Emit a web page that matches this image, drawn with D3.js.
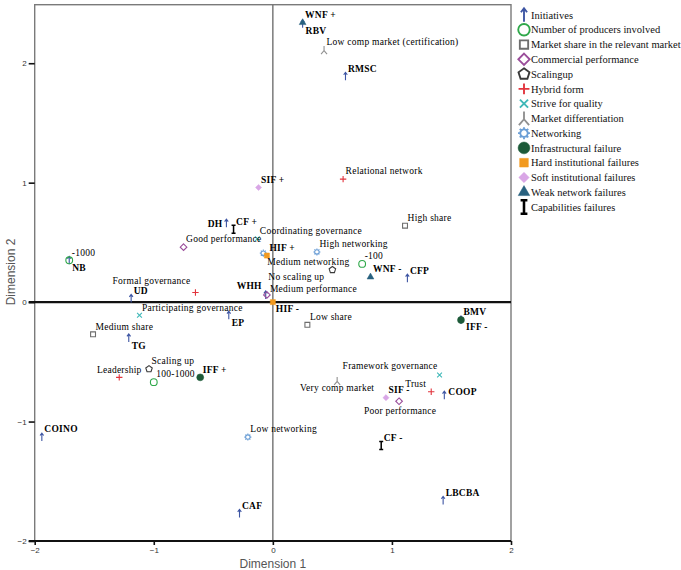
<!DOCTYPE html>
<html>
<head>
<meta charset="utf-8">
<script src="https://cdn.jsdelivr.net/npm/d3@7"></script>
<style>
  body { margin: 0; background: #fff; }
  svg { display: block; }
</style>
</head>
<body>
<div id="chart"></div>
<script>
// ---- data ----
const initiatives = [
  {name: "RBV", x: 0.25, y: 2.33},
  {name: "RMSC", x: 0.61, y: 1.89},
  {name: "DH", x: -0.39, y: 0.66},
  {name: "WHH", x: -0.06, y: 0.06},
  {name: "CFP", x: 1.13, y: 0.20},
  {name: "UD", x: -1.19, y: 0.03},
  {name: "EP", x: -0.37, y: -0.11},
  {name: "NB", x: -1.71, y: 0.35},
  {name: "TG", x: -1.21, y: -0.30},
  {name: "BMV", x: 1.58, y: -0.15},
  {name: "COOP", x: 1.44, y: -0.78},
  {name: "COINO", x: -1.94, y: -1.13},
  {name: "CAF", x: -0.28, y: -1.77},
  {name: "LBCBA", x: 1.43, y: -1.66}
];
const producers = [
  {name: "-1000", x: -1.71, y: 0.35},
  {name: "100-1000", x: -1.00, y: -0.67},
  {name: "-100", x: 0.75, y: 0.32}
];
const marketShare = [
  {name: "High share", x: 1.11, y: 0.64},
  {name: "Low share", x: 0.29, y: -0.19},
  {name: "Medium share", x: -1.51, y: -0.27}
];
const performance = [
  {name: "Good performance", x: -0.75, y: 0.46},
  {name: "Medium performance", x: -0.05, y: 0.06},
  {name: "Poor performance", x: 1.06, y: -0.83}
];
const scaling = [
  {name: "Scaling up", x: -1.04, y: -0.56},
  {name: "No scaling up", x: 0.50, y: 0.27}
];
const hybrid = [
  {name: "Relational network", x: 0.59, y: 1.03},
  {name: "Formal governance", x: -0.65, y: 0.08},
  {name: "Leadership", x: -1.29, y: -0.63},
  {name: "Trust", x: 1.33, y: -0.75}
];
const quality = [
  {name: "Coordinating governance", x: -0.13, y: 0.53},
  {name: "Participating governance", x: -1.12, y: -0.11},
  {name: "Framework governance", x: 1.40, y: -0.61}
];
const differentiation = [
  {name: "Low comp market (certification)", x: 0.43, y: 2.11},
  {name: "Very comp market", x: 0.54, y: -0.66}
];
const networking = [
  {name: "High networking", x: 0.37, y: 0.42},
  {name: "Medium networking", x: -0.08, y: 0.41},
  {name: "Low networking", x: -0.21, y: -1.13}
];
const infraFail = [
  {name: "IFF +", x: -0.61, y: -0.63},
  {name: "IFF -", x: 1.58, y: -0.15}
];
const hardFail = [
  {name: "HIF +", x: -0.05, y: 0.39},
  {name: "HIF -", x: 0.00, y: 0.00}
];
const softFail = [
  {name: "SIF +", x: -0.12, y: 0.96},
  {name: "SIF -", x: 0.95, y: -0.80}
];
const weakFail = [
  {name: "WNF +", x: 0.25, y: 2.34},
  {name: "WNF -", x: 0.82, y: 0.21}
];
const capFail = [
  {name: "CF +", x: -0.33, y: 0.61},
  {name: "CF -", x: 0.91, y: -1.20}
];

const series = [
  {key: "Initiatives", points: initiatives, bold: true},
  {key: "Number of producers involved", points: producers},
  {key: "Market share in the relevant market", points: marketShare},
  {key: "Commercial performance", points: performance},
  {key: "Scalingup", points: scaling},
  {key: "Hybrid form", points: hybrid},
  {key: "Strive for quality", points: quality},
  {key: "Market differentiation", points: differentiation},
  {key: "Networking", points: networking},
  {key: "Infrastructural failure", points: infraFail, bold: true},
  {key: "Hard institutional failures", points: hardFail, bold: true},
  {key: "Soft institutional failures", points: softFail, bold: true},
  {key: "Weak network failures", points: weakFail, bold: true},
  {key: "Capabilities failures", points: capFail, bold: true}
];

const ticks = [-2, -1, 0, 1, 2];

// ---- look ----
const style = {
  "Initiatives": {shape: "arrow", color: "#3d55a3"},
  "Number of producers involved": {shape: "circle", color: "#2fa84a"},
  "Market share in the relevant market": {shape: "square", color: "#6e6e6e"},
  "Commercial performance": {shape: "diamond", color: "#9a4d9a"},
  "Scalingup": {shape: "pentagon", color: "#3a3a3a"},
  "Hybrid form": {shape: "plus", color: "#e2343d"},
  "Strive for quality": {shape: "times", color: "#3fb8b8"},
  "Market differentiation": {shape: "wye", color: "#909090"},
  "Networking": {shape: "gear", color: "#6c9fd6"},
  "Infrastructural failure": {shape: "dot", color: "#1d5a38"},
  "Hard institutional failures": {shape: "fsquare", color: "#f29a1f"},
  "Soft institutional failures": {shape: "fdiamond", color: "#d9a6e6"},
  "Weak network failures": {shape: "triangle", color: "#28617f"},
  "Capabilities failures": {shape: "ibeam", color: "#000"}
};

// label nudges (default: right of the marker, a bit above)
const nudge = {
  "RBV": {dx: 3, dy: 7},
  "DH": {anchor: "end", dx: -4, dy: 0},
  "WHH": {anchor: "end", dx: -4, dy: -9},
  "Medium networking": {dx: 4, dy: 9},
  "No scaling up": {anchor: "end", dx: -8, dy: 7},
  "Medium performance": {dx: 3, dy: -6},
  "HIF -": {dx: 3, dy: 7},
  "IFF -": {dx: 5, dy: 7},
  "Formal governance": {anchor: "end", dx: -5, dy: -12},
  "EP": {dx: 3, dy: 7},
  "NB": {dx: 3, dy: 7},
  "TG": {dx: 3, dy: 8},
  "Leadership": {anchor: "middle", dx: 0, dy: -8},
  "Framework governance": {anchor: "end", dx: -2, dy: -9},
  "Very comp market": {anchor: "middle", dx: 0, dy: 7},
  "Trust": {anchor: "end", dx: -5, dy: -8},
  "COOP": {dx: 4, dy: -4},
  "Poor performance": {anchor: "middle", dx: 1, dy: 9}
};

const W = 681, H = 570;
const x = d3.scaleLinear().domain([-2, 2]).range([34.7, 511]);
const y = d3.scaleLinear().domain([-2, 2.49]).range([541, 4.7]);

const svg = d3.select("#chart").append("svg")
    .attr("width", W)
    .attr("height", H);

// marker path builder, s = size factor (1 in plot, bigger in legend)
function markerPath(shape, s) {
  const p = d3.path();
  if (shape === "arrow") {
    p.moveTo(0, 4 * s); p.lineTo(0, -4 * s);
    p.moveTo(-1.8 * s, -1.6 * s); p.lineTo(0, -4 * s); p.lineTo(1.8 * s, -1.6 * s);
    return p.toString();
  }
  if (shape === "wye") {
    p.moveTo(0, -4 * s); p.lineTo(0, 0.5 * s);
    p.lineTo(-3 * s, 4 * s);
    p.moveTo(0, 0.5 * s); p.lineTo(3 * s, 4 * s);
    return p.toString();
  }
  if (shape === "ibeam") {
    p.moveTo(-2 * s, -4 * s); p.lineTo(2 * s, -4 * s);
    p.moveTo(0, -4 * s); p.lineTo(0, 4 * s);
    p.moveTo(-2 * s, 4 * s); p.lineTo(2 * s, 4 * s);
    return p.toString();
  }
  if (shape === "plus") {
    p.moveTo(-3.2 * s, 0); p.lineTo(3.2 * s, 0);
    p.moveTo(0, -3.2 * s); p.lineTo(0, 3.2 * s);
    return p.toString();
  }
  if (shape === "times") {
    p.moveTo(-2.4 * s, -2.4 * s); p.lineTo(2.4 * s, 2.4 * s);
    p.moveTo(-2.4 * s, 2.4 * s); p.lineTo(2.4 * s, -2.4 * s);
    return p.toString();
  }
  if (shape === "pentagon") {
    const r = 3.4 * s;
    for (let i = 0; i < 5; i++) {
      const a = -Math.PI / 2 + i * 2 * Math.PI / 5;
      if (i === 0) p.moveTo(r * Math.cos(a), r * Math.sin(a));
      else p.lineTo(r * Math.cos(a), r * Math.sin(a));
    }
    p.closePath();
    return p.toString();
  }
  if (shape === "gear") {
    const r = 2.2 * s;
    p.arc(0, 0, r, 0, 2 * Math.PI);
    for (let i = 0; i < 8; i++) {
      const a = i * Math.PI / 4;
      p.moveTo(r * Math.cos(a), r * Math.sin(a));
      p.lineTo(r * 1.6 * Math.cos(a), r * 1.6 * Math.sin(a));
    }
    return p.toString();
  }
  const area = {
    circle: 36, square: 24, diamond: 28,
    dot: 38, fsquare: 26, fdiamond: 24, triangle: 20
  }[shape] * s * s;
  const type = {
    circle: d3.symbolCircle, square: d3.symbolSquare, diamond: d3.symbolDiamond2,
    dot: d3.symbolCircle, fsquare: d3.symbolSquare, fdiamond: d3.symbolDiamond2,
    triangle: d3.symbolTriangle
  }[shape];
  return d3.symbol().type(type).size(area)();
}

function isFilled(shape) {
  return ["dot", "fsquare", "fdiamond", "triangle"].includes(shape);
}

function drawMarker(g, key, s) {
  const st = style[key];
  const filled = isFilled(st.shape);
  g.append("path")
    .attr("d", markerPath(st.shape, s))
    .attr("fill", filled ? st.color : "none")
    .attr("stroke", st.color)
    .attr("stroke-width", filled ? 0.5 : (st.shape === "ibeam" ? 1.5 * s : 1.1 * s));
}

// frame
svg.append("rect")
  .attr("x", x(-2)).attr("y", y(2.49))
  .attr("width", x(2) - x(-2)).attr("height", y(-2) - y(2.49))
  .attr("fill", "none")
  .attr("stroke", "#7a7a7a")
  .attr("stroke-width", 1.4);

// zero lines
svg.append("line")
  .attr("x1", x(0)).attr("x2", x(0))
  .attr("y1", y(2.49)).attr("y2", y(-2))
  .attr("stroke", "#707070").attr("stroke-width", 1.4);
svg.append("line")
  .attr("x1", x(-2) - 6).attr("x2", x(2))
  .attr("y1", y(0)).attr("y2", y(0))
  .attr("stroke", "#111").attr("stroke-width", 2.2);
svg.append("line")
  .attr("x1", x(-2) - 6).attr("x2", x(2))
  .attr("y1", y(-2)).attr("y2", y(-2))
  .attr("stroke", "#111").attr("stroke-width", 2.2);

// axes
const yAxis = svg.append("g")
  .attr("transform", "translate(" + x(-2) + ",0)")
  .call(d3.axisLeft(y).tickValues(ticks).tickSize(6).tickPadding(2).tickFormat(d3.format("d")));
const xAxis = svg.append("g")
  .attr("transform", "translate(0," + y(-2) + ")")
  .call(d3.axisBottom(x).tickValues(ticks).tickSize(4).tickPadding(2).tickFormat(d3.format("d")));
[yAxis, xAxis].forEach(a => {
  a.select(".domain").remove();
  a.selectAll(".tick line").attr("stroke", "#111").attr("stroke-width", 1.6);
  a.selectAll(".tick text")
    .attr("fill", "#333")
    .style("font-family", "'Liberation Sans', Arial, sans-serif")
    .style("font-size", "8px");
});

svg.append("text")
  .attr("transform", "translate(15," + 272 + ") rotate(-90)")
  .attr("text-anchor", "middle")
  .attr("fill", "#555")
  .style("font-family", "'Liberation Sans', Arial, sans-serif")
  .style("font-size", "12px")
  .text("Dimension 2");
svg.append("text")
  .attr("x", x(0)).attr("y", 568)
  .attr("text-anchor", "middle")
  .attr("fill", "#555")
  .style("font-family", "'Liberation Sans', Arial, sans-serif")
  .style("font-size", "12px")
  .text("Dimension 1");

// points
const plot = svg.append("g");
series.forEach(sr => {
  sr.points.forEach(d => {
    const g = plot.append("g")
      .attr("transform", "translate(" + x(d.x) + "," + y(d.y) + ")");
    drawMarker(g, sr.key, 1);
  });
});

// labels
series.forEach(sr => {
  sr.points.forEach(d => {
    const n = Object.assign({anchor: "start", dx: 2.5, dy: -8}, nudge[d.name] || {});
    plot.append("text")
      .attr("x", x(d.x) + n.dx)
      .attr("y", y(d.y) + n.dy)
      .attr("dy", "0.35em")
      .attr("text-anchor", n.anchor)
      .attr("fill", "#000")
      .style("font-family", "'Liberation Serif', 'Times New Roman', serif")
      .style("font-size", "9.5px")
      .style("letter-spacing", "0.25px")
      .style("font-weight", sr.bold ? "bold" : "normal")
      .text(d.name);
  });
});

// legend
const legend = svg.append("g").attr("transform", "translate(524,15)");
series.forEach((sr, i) => {
  const g = legend.append("g").attr("transform", "translate(0," + (i * 14.77) + ")");
  drawMarker(g, sr.key, 1.7);
  g.append("text")
    .attr("x", 7).attr("y", 0)
    .attr("dy", "0.35em")
    .attr("fill", "#111")
    .style("font-family", "'Liberation Serif', 'Times New Roman', serif")
    .style("font-size", "10.5px")
    .text(sr.key);
});
</script>
</body>
</html>
